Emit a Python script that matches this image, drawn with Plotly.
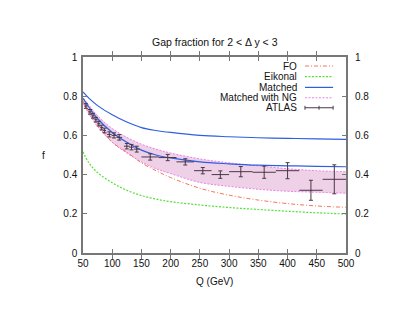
import plotly.graph_objects as go

# ---------------- data ----------------
q_curve = [50, 60, 75, 100, 125, 150, 175, 200, 250, 300, 350, 400, 450, 500]
fo = [0.775, 0.72, 0.655, 0.565, 0.515, 0.46, 0.42, 0.385, 0.33, 0.295, 0.27, 0.252, 0.24, 0.233]
eikonal = [0.517, 0.46, 0.41, 0.358, 0.32, 0.293, 0.275, 0.262, 0.245, 0.232, 0.222, 0.213, 0.205, 0.199]
matched = [0.822, 0.79, 0.752, 0.705, 0.668, 0.64, 0.625, 0.615, 0.6, 0.593, 0.588, 0.585, 0.582, 0.58]
matched_low = [0.79, 0.745, 0.685, 0.615, 0.565, 0.525, 0.5, 0.485, 0.465, 0.455, 0.448, 0.445, 0.442, 0.44]
ng_upper = [0.79, 0.755, 0.70, 0.635, 0.59, 0.555, 0.53, 0.51, 0.48, 0.46, 0.445, 0.43, 0.42, 0.415]
ng_lower = [0.765, 0.71, 0.645, 0.565, 0.51, 0.465, 0.43, 0.405, 0.36, 0.34, 0.325, 0.315, 0.31, 0.305]

atlas_q = [55, 62, 67, 72, 77, 82, 87, 95, 103, 112, 125, 133, 142, 165, 195, 225, 255, 285, 320, 360, 400, 440, 480]
atlas_f = [0.75, 0.72, 0.70, 0.68, 0.66, 0.64, 0.625, 0.605, 0.60, 0.59, 0.545, 0.54, 0.53,
           0.49, 0.487, 0.465, 0.42, 0.40, 0.415, 0.412, 0.42, 0.32, 0.376]
atlas_dq = [3, 3, 2.5, 2.5, 2.5, 2.5, 2.5, 4, 4, 5, 5, 4, 5, 15, 15, 15, 15, 15, 20, 20, 20, 20, 20]
atlas_df = [0.012, 0.012, 0.012, 0.012, 0.012, 0.012, 0.012, 0.013, 0.013, 0.014, 0.014, 0.014, 0.015,
            0.016, 0.016, 0.016, 0.016, 0.019, 0.026, 0.031, 0.041, 0.051, 0.074]

x_ticks = [50, 100, 150, 200, 250, 300, 350, 400, 450, 500]
y_ticks = [0, 0.2, 0.4, 0.6, 0.8, 1]
y_tick_text = ["0", "0.2", "0.4", "0.6", "0.8", "1"]

legend_names = ["FO", "Eikonal", "Matched", "Matched with NG", "ATLAS"]

# ---------------- styles ----------------
C_FO = "#f4765a"
C_EIK = "#55e03a"
C_MAT = "#2e5fe0"
C_NG = "#ee7fe8"
C_BAND = "rgba(205,120,185,0.35)"
C_ATLAS = "#4a3848"
FONT = "Liberation Sans, Arial, sans-serif"
DASH_FO = "4px,2px,1px,2px"
DASH_DOT = "2px,1.5px"

fig = go.Figure()

# NG band
fig.add_trace(go.Scatter(x=q_curve, y=ng_lower, mode="lines", line=dict(color=C_NG, width=1, dash=DASH_DOT, shape="spline"),
                         showlegend=False, hoverinfo="skip"))
fig.add_trace(go.Scatter(x=q_curve, y=ng_upper, mode="lines", line=dict(color=C_NG, width=1, dash=DASH_DOT, shape="spline"),
                         fill="tonexty", fillcolor=C_BAND, showlegend=False, hoverinfo="skip"))

fig.add_trace(go.Scatter(x=q_curve, y=fo, mode="lines", line=dict(color=C_FO, width=1, dash=DASH_FO, shape="spline"),
                         showlegend=False))
fig.add_trace(go.Scatter(x=q_curve, y=eikonal, mode="lines", line=dict(color=C_EIK, width=1.2, dash=DASH_DOT, shape="spline"),
                         showlegend=False))
fig.add_trace(go.Scatter(x=q_curve, y=matched, mode="lines", line=dict(color=C_MAT, width=1.2, shape="spline"),
                         showlegend=False))
fig.add_trace(go.Scatter(x=q_curve, y=matched_low, mode="lines", line=dict(color=C_MAT, width=1.2, shape="spline"),
                         showlegend=False))

fig.add_trace(go.Scatter(x=atlas_q, y=atlas_f, mode="markers",
                         marker=dict(size=1, color=C_ATLAS),
                         error_x=dict(type="data", array=atlas_dq, color=C_ATLAS, thickness=1, width=0),
                         error_y=dict(type="data", array=atlas_df, color=C_ATLAS, thickness=1, width=2),
                         showlegend=False))

# dummy trace for right axis
fig.add_trace(go.Scatter(x=[None], y=[None], yaxis="y2", showlegend=False))

# ---------------- legend (manual, gnuplot style) ----------------
row_y = [0.954, 0.9, 0.845, 0.792, 0.741]
styles = [dict(color=C_FO, width=1, dash=DASH_FO),
          dict(color=C_EIK, width=1.2, dash=DASH_DOT),
          dict(color=C_MAT, width=1.2),
          dict(color=C_NG, width=1, dash=DASH_DOT),
          dict(color=C_ATLAS, width=1)]
sx0, sx1 = 0.844, 0.951
shapes = []
annotations = []
for name, yy, st in zip(legend_names, row_y, styles):
    annotations.append(dict(x=0.821, y=yy, xref="paper", yref="paper", text=name, showarrow=False,
                            xanchor="right", yanchor="middle", font=dict(size=10, color="#111", family=FONT)))
    shapes.append(dict(type="line", xref="paper", yref="paper", x0=sx0, x1=sx1, y0=yy, y1=yy, line=st))
# ATLAS legend caps
for xx in [sx0, (sx0 + sx1) / 2, sx1]:
    shapes.append(dict(type="line", xref="paper", yref="paper", x0=xx, x1=xx, y0=row_y[4] - 0.01, y1=row_y[4] + 0.01,
                       line=dict(color=C_ATLAS, width=1)))

annotations.append(dict(x=-0.163, y=0.5, xref="paper", yref="paper", text="f", showarrow=False,
                        font=dict(size=10, color="#111", family=FONT)))
annotations.append(dict(x=0.5, y=-0.143, xref="paper", yref="paper", text="Q (GeV)", showarrow=False,
                        yanchor="middle", font=dict(size=10, color="#111", family=FONT)))
annotations.append(dict(x=0.5, y=1.075, xref="paper", yref="paper", text="Gap fraction for 2 < Δ y < 3",
                        showarrow=False, yanchor="middle", font=dict(size=10.5, color="#111", family=FONT)))

axis_common = dict(showgrid=False, zeroline=False, showline=True, linecolor="#777", linewidth=1.5,
                   ticks="inside", ticklen=4, tickcolor="#777", tickfont=dict(size=10, color="#111", family=FONT))

# page has an 8px body margin, so the figure is shrunk by 8px and margins shifted accordingly
fig.update_layout(
    width=403, height=310,
    margin=dict(l=75, r=65, t=49, b=65),
    paper_bgcolor="white", plot_bgcolor="white",
    showlegend=False,
    xaxis=dict(range=[50, 500], tickvals=x_ticks, mirror="allticks", **axis_common),
    yaxis=dict(range=[0, 1], tickvals=y_ticks, ticktext=y_tick_text, mirror="allticks",
               ticklabelstandoff=2, **axis_common),
    yaxis2=dict(range=[0, 1], tickvals=y_ticks, ticktext=y_tick_text, overlaying="y", side="right",
                showgrid=False, zeroline=False, showline=False, ticks="", ticklabelstandoff=8,
                tickfont=dict(size=10, color="#111", family=FONT)),
    shapes=shapes,
    annotations=annotations,
)

fig.write_html("out.html")
